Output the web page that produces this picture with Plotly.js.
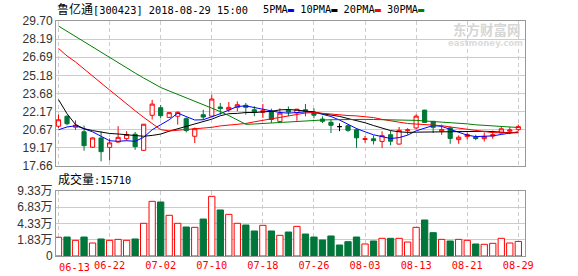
<!DOCTYPE html>
<html>
<head>
<meta charset="utf-8">
<script src="https://cdn.plot.ly/plotly-3.0.1.min.js"></script>
<style>
html,body{margin:0;padding:0;background:#fff;}
#chart{width:578px;height:276px;}
</style>
</head>
<body>
<div id="chart"></div>
<script>
// ---------------- data ----------------
const dates = ["06-13","06-14","06-15","06-19","06-20","06-21","06-22","06-25","06-26","06-27","06-28","06-29",
"07-02","07-03","07-04","07-05","07-06","07-09","07-10","07-11","07-12","07-13","07-16","07-17","07-18","07-19","07-20","07-23","07-24","07-25","07-26","07-27","07-30","07-31",
"08-01","08-02","08-03","08-06","08-07","08-08","08-09","08-10","08-13","08-14","08-15","08-16","08-17","08-20","08-21","08-22","08-23","08-24","08-27","08-28","08-29"];

const openP  = [20.96,21.79,20.88,20.50,19.22,19.99,19.21,19.65,19.93,20.30,18.96,21.87,22.50,21.70,21.79,21.59,20.13,21.92,21.80,22.56,22.33,22.53,22.70,22.33,22.12,22.21,21.36,22.30,22.07,22.33,22.12,21.56,21.29,20.93,21.00,20.67,19.86,19.92,19.70,20.26,19.48,20.60,20.82,22.30,21.37,20.55,20.82,19.85,20.10,20.06,19.93,20.15,20.40,20.55,20.68];
const highP  = [21.92,21.87,21.45,21.02,20.05,20.55,19.95,20.97,20.55,20.48,21.15,23.15,22.72,22.15,22.20,21.70,20.85,22.33,23.58,22.89,22.97,23.03,22.89,22.62,22.81,22.42,22.45,22.60,22.39,22.81,22.45,21.79,21.50,21.20,21.12,20.82,20.15,20.20,20.54,20.59,20.90,20.80,21.95,22.32,21.40,21.10,20.95,20.20,20.45,20.25,20.45,20.60,20.95,20.90,21.10];
const lowP   = [20.82,21.04,20.66,18.93,19.15,18.05,18.12,19.60,19.77,19.00,18.93,21.52,21.62,21.65,21.10,20.45,19.57,21.50,21.70,21.92,22.14,22.20,21.92,21.79,21.65,21.23,21.34,21.80,21.42,21.79,21.62,21.23,20.40,20.55,20.50,19.17,19.60,19.45,19.15,19.38,19.45,20.25,20.70,21.25,20.40,20.25,19.50,19.50,19.85,19.80,19.70,19.92,20.35,20.30,20.55];
const closeP = [21.50,21.17,21.05,19.35,19.99,18.85,19.58,20.04,20.27,19.26,21.13,22.80,21.84,22.09,22.12,20.60,20.76,21.72,23.22,22.43,22.53,22.75,22.53,22.14,22.25,21.52,22.05,22.14,22.38,22.20,21.88,21.37,21.04,20.93,20.62,20.00,19.92,19.76,20.18,19.72,20.62,20.66,21.80,21.28,20.87,20.68,19.95,20.05,20.27,19.94,20.12,20.25,20.75,20.65,20.93];

// volume in 万 (10k lots)
const volumes = [2.21,2.25,1.74,2.25,1.33,1.95,1.74,1.89,1.74,1.95,4.36,7.74,7.64,5.59,4.36,3.79,3.74,5.02,8.51,6.41,5.74,4.36,4.10,3.18,4.05,3.18,2.51,3.02,3.89,2.71,2.25,1.79,2.41,1.02,1.53,2.25,1.18,1.64,2.05,2.05,2.05,1.48,3.74,4.87,2.92,1.89,1.64,1.89,1.74,1.18,1.13,1.28,2.05,1.33,1.571];

const ma5  = [20.67,20.90,21.00,20.76,20.50,20.13,19.76,19.71,19.76,19.71,20.04,20.67,21.09,21.50,22.05,21.75,21.48,21.50,21.72,22.00,22.30,22.60,22.65,22.50,22.40,22.20,22.10,22.05,22.10,22.15,22.13,21.95,21.77,21.48,21.12,20.77,20.50,20.25,20.10,19.94,20.02,20.22,20.58,20.80,21.02,20.95,20.70,20.45,20.22,20.10,20.10,20.16,20.28,20.36,20.50];
const ma10 = [23.17,22.00,21.10,20.76,20.60,20.46,20.36,20.32,20.27,20.21,20.13,20.20,20.31,20.55,20.75,20.92,21.09,21.30,21.55,21.83,22.00,22.03,22.10,22.10,22.15,22.20,22.32,22.35,22.30,22.25,22.15,22.00,21.90,21.78,21.60,21.44,21.25,21.02,20.83,20.60,20.50,20.45,20.47,20.48,20.50,20.55,20.55,20.56,20.56,20.56,20.54,20.52,20.46,20.42,20.44];
const ma20 = [27.42,26.80,26.30,25.70,25.13,24.55,23.97,23.40,22.80,22.25,21.70,21.20,20.68,20.57,20.62,20.67,20.72,20.78,20.87,20.99,21.04,21.12,21.19,21.33,21.45,21.58,21.70,21.81,21.91,22.06,22.10,22.03,21.99,21.93,21.85,21.82,21.78,21.68,21.53,21.39,21.30,21.19,21.16,21.12,21.05,21.01,20.90,20.80,20.69,20.58,20.49,20.43,20.42,20.40,20.42];
const ma30 = [29.28,28.84,28.40,27.96,27.52,27.08,26.64,26.21,25.80,25.38,24.97,24.55,24.18,23.89,23.61,23.31,23.01,22.75,22.48,22.18,21.85,21.48,21.12,21.15,21.19,21.26,21.33,21.37,21.41,21.45,21.47,21.48,21.50,21.52,21.53,21.53,21.53,21.52,21.51,21.50,21.50,21.48,21.45,21.40,21.36,21.32,21.28,21.23,21.16,21.08,21.02,20.98,20.94,20.90,20.86];

const maNames = ["5PMA","10PMA","20PMA","30PMA"];
const priceTicks = [29.70,28.19,26.69,25.18,23.68,22.17,20.67,19.17,17.66];
const volTicks = [-0.67,1.83,4.33,6.83,9.33];
const volTickText = ["0","1.83万","4.33万","6.83万","9.33万"];
const xTickLabels = ["06-13","06-22","07-02","07-10","07-18","07-26","08-03","08-13","08-21","08-29"];
const stockName = "鲁亿通";
const stockCode = "300423";
const stampText = "2018-08-29 15:00";

// ---------------- styles ----------------
const RED = "#ff0000", GREEN = "#00763a";
const maColors = ["#0000ff","#000000","#ff0000","#008000"];
const MONO = "DejaVu Sans Mono, Noto Sans CJK SC, monospace";
const SANS = "Liberation Sans, Arial, Noto Sans CJK SC, sans-serif";
const VOL_FLOOR = volTicks[0];

const idx = dates.map((d,i)=>i);
const isDoji = i => closeP[i] === openP[i];
const mainIdx = idx.filter(i=>!isDoji(i));
const dojiIdx = idx.filter(i=>isDoji(i));
const pick = (arr, ids) => ids.map(i=>arr[i]);
const tickIdx = xTickLabels.map(t=>dates.indexOf(t));

const traces = [
  {
    type:"candlestick", xaxis:"x", yaxis:"y",
    x: mainIdx, open: pick(openP,mainIdx), high: pick(highP,mainIdx), low: pick(lowP,mainIdx), close: pick(closeP,mainIdx),
    increasing:{line:{color:RED,width:1}, fillcolor:"#ffffff"},
    decreasing:{line:{color:GREEN,width:1}, fillcolor:GREEN},
    whiskerwidth:0, hoverinfo:"skip"
  },
  {
    type:"candlestick", xaxis:"x", yaxis:"y",
    x: dojiIdx, open: pick(openP,dojiIdx), high: pick(highP,dojiIdx), low: pick(lowP,dojiIdx), close: pick(closeP,dojiIdx),
    increasing:{line:{color:"#000",width:1}, fillcolor:"#000"},
    decreasing:{line:{color:"#000",width:1}, fillcolor:"#000"},
    whiskerwidth:0, hoverinfo:"skip"
  },
  {
    type:"bar", xaxis:"x2", yaxis:"y2",
    x: idx, y: volumes.map(v=>v-VOL_FLOOR), base: VOL_FLOOR, width:0.74,
    marker:{
      color: idx.map(i=> closeP[i] > openP[i] ? "#ffffff" : GREEN),
      line:{color: idx.map(i=> closeP[i] > openP[i] ? RED : GREEN), width:1}
    },
    hoverinfo:"skip"
  }
];
[ma5,ma10,ma20,ma30].forEach((m,k)=>{
  traces.push({type:"scatter", mode:"lines", xaxis:"x", yaxis:"y", x: idx, y: m,
    name: maNames[k], line:{color:maColors[k], width:1}, hoverinfo:"skip"});
});

const PX = px => (px-56)/469;
const PY = py => (256-py)/235;

const legendText = maNames.map((n,k)=> n + '<span style="color:'+maColors[k]+'">▬</span>').join(" ");

const commonX = {
  range:[-0.294, 54.786], showline:true, mirror:true, linecolor:"#999", linewidth:1,
  showgrid:true, gridcolor:"#cccccc", griddash:"4px,3px", gridwidth:1,
  tickvals: tickIdx, ticks:"", zeroline:false, fixedrange:true
};

const layout = {
  width:578, height:276,
  margin:{l:56, r:53, t:21, b:20, pad:0},
  paper_bgcolor:"#fff", plot_bgcolor:"#fff",
  showlegend:false,
  xaxis: Object.assign({}, commonX, {anchor:"y", showticklabels:false, rangeslider:{visible:false}}),
  xaxis2: Object.assign({}, commonX, {anchor:"y2", showticklabels:true,
      ticktext: xTickLabels.map((t,k)=> k===0 ? "" : t),
      tickfont:{family:MONO, size:10.3, color:RED}}),
  yaxis: {
    domain:[PY(166), 1], range:[priceTicks[priceTicks.length-1], priceTicks[0]],
    tickvals: priceTicks, ticktext: priceTicks.map(v=>v.toFixed(2)),
    showline:true, mirror:true, linecolor:"#999", linewidth:1,
    showgrid:true, gridcolor:"#cccccc", zeroline:false, ticks:"",
    tickfont:{family:SANS, size:12, color:"#333"}, fixedrange:true
  },
  yaxis2: {
    domain:[0, PY(191)], range:[VOL_FLOOR, volTicks[volTicks.length-1]],
    tickvals: volTicks, ticktext: volTickText,
    showline:true, mirror:true, linecolor:"#999", linewidth:1,
    showgrid:true, gridcolor:"#cccccc", zeroline:false, ticks:"",
    tickfont:{family:SANS, size:12, color:"#333"}, fixedrange:true
  },
  shapes:[
    {type:"line", xref:"x domain", x0:0, x1:1, yref:"y", y0:priceTicks[4], y1:priceTicks[4],
     line:{color:"#999", width:1}, layer:"below"}
  ],
  annotations:[
    {xref:"paper", yref:"paper", x:PX(54.5), y:PY(9.5), xanchor:"left", yanchor:"middle", showarrow:false,
     text:'<span style="font-size:12px">'+stockName+'</span>['+stockCode+'] '+stampText,
     font:{family:MONO, size:10.3, color:"#000"}},
    {xref:"paper", yref:"paper", x:PX(261), y:PY(9.5), xanchor:"left", yanchor:"middle", showarrow:false,
     text:legendText, font:{family:MONO, size:10.3, color:"#000"}},
    {xref:"paper", yref:"paper", x:PX(55.5), y:PY(179.5), xanchor:"left", yanchor:"middle", showarrow:false,
     text:'<span style="font-size:12px">成交量</span>:' + Math.round(volumes[volumes.length-1]*10000),
     font:{family:MONO, size:10.3, color:"#000"}},
    {xref:"paper", yref:"paper", x:PX(57.3), y:PY(267), xanchor:"left", yanchor:"middle", showarrow:false,
     text:xTickLabels[0], font:{family:MONO, size:10.3, color:RED}},
    {xref:"paper", yref:"paper", x:PX(487), y:PY(29), xanchor:"center", yanchor:"middle", showarrow:false,
     text:"<b>东方财富网</b>", font:{family:"Noto Sans CJK SC, sans-serif", size:13.5, color:"#d6d6d6"}},
    {xref:"paper", yref:"paper", x:PX(485), y:PY(43), xanchor:"center", yanchor:"middle", showarrow:false,
     text:"<b>eastmoney.com</b>", font:{family:"DejaVu Sans, sans-serif", size:8.5, color:"#dcdcdc"}}
  ]
};

Plotly.newPlot("chart", traces, layout, {staticPlot:true, displayModeBar:false});
</script>
</body>
</html>
